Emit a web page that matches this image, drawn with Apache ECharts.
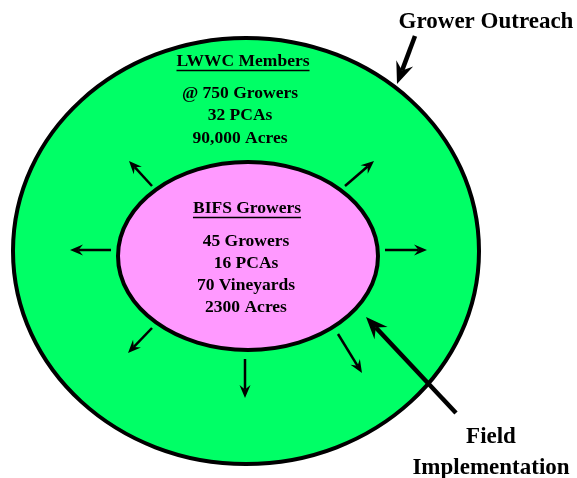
<!DOCTYPE html>
<html>
<head>
<meta charset="utf-8">
<script src="https://cdn.jsdelivr.net/npm/echarts@6/dist/echarts.min.js"></script>
<style>html,body{margin:0;padding:0;background:#fff}#main{width:577px;height:478px}</style>
</head>
<body>
<div id="main"></div>
<script>
var lwwcTitle = 'LWWC Members';
var lwwcLines = ['@ 750 Growers', '32 PCAs', '90,000 Acres'];
var bifsTitle = 'BIFS Growers';
var bifsLines = ['45 Growers', '16 PCAs', '70 Vineyards', '2300 Acres'];
var outreachLabel = ['Grower Outreach'];
var fieldLabel = ['Field', 'Implementation'];

// layout, in the pixel space of the hidden axes
var rings = [
	[246, 251, 233, 213, '#00ff66'],
	[248, 256, 130, 94, '#ff99ff']
];
var smallArrows = [
	[152, 186, 129, 161],
	[345, 186, 374, 161],
	[111, 250, 70, 250],
	[385, 250, 427, 250],
	[152, 328, 128, 353],
	[245, 359, 245, 398],
	[338, 334, 362, 373]
];
var bigArrows = [
	[415, 36, 397, 84],
	[456, 413, 366, 317]
];

var FONT = '"Liberation Serif", "Times New Roman", serif';
var texts = [];
texts.push([243, 61, lwwcTitle, 17.5, 1]);
lwwcLines.forEach(function(t, i) { texts.push([240, 93 + i * 22.5, t, 17.5, 0]); });
texts.push([247, 208, bifsTitle, 17.5, 1]);
bifsLines.forEach(function(t, i) { texts.push([246, 241 + i * 22, t, 17.5, 0]); });
outreachLabel.forEach(function(t, i) { texts.push([486, 22 + i * 30, t, 23, 0]); });
fieldLabel.forEach(function(t, i) { texts.push([491, 437 + i * 31, t, 23, 0]); });

var measure = document.createElement('canvas').getContext('2d');
function textWidth(t, size) {
	measure.font = 'bold ' + size + 'px ' + FONT;
	return measure.measureText(t).width;
}

function arrow(api, lineW, headL, headW) {
	var p0 = api.coord([api.value(0), api.value(1)]);
	var p1 = api.coord([api.value(2), api.value(3)]);
	var dx = p1[0] - p0[0], dy = p1[1] - p0[1];
	var len = Math.sqrt(dx * dx + dy * dy);
	var ux = dx / len, uy = dy / len, nx = -uy, ny = ux;
	var bx = p1[0] - ux * headL, by = p1[1] - uy * headL;
	var mx = p1[0] - ux * headL * 0.65, my = p1[1] - uy * headL * 0.65;
	return {
		type: 'group',
		children: [{
			type: 'line',
			shape: {x1: p0[0], y1: p0[1], x2: mx, y2: my},
			style: {stroke: '#000', lineWidth: lineW}
		}, {
			type: 'polygon',
			shape: {points: [p1, [bx + nx * headW, by + ny * headW], [mx, my], [bx - nx * headW, by - ny * headW]]},
			style: {fill: '#000'}
		}]
	};
}

var myChart = echarts.init(document.getElementById('main'));
myChart.setOption({
	animation: false,
	grid: {left: 0, right: 0, top: 0, bottom: 0},
	xAxis: {type: 'value', min: 0, max: 577, show: false},
	yAxis: {type: 'value', min: 0, max: 478, inverse: true, show: false},
	series: [{
		type: 'custom',
		data: rings,
		renderItem: function(params, api) {
			var c = api.coord([api.value(0), api.value(1)]);
			var s = api.size([api.value(2), api.value(3)]);
			return {
				type: 'ellipse',
				shape: {cx: c[0], cy: c[1], rx: s[0], ry: s[1]},
				style: {fill: rings[params.dataIndex][4], stroke: '#000', lineWidth: 4}
			};
		}
	}, {
		type: 'custom',
		data: smallArrows,
		renderItem: function(params, api) { return arrow(api, 2.5, 13, 5.5); }
	}, {
		type: 'custom',
		data: bigArrows,
		renderItem: function(params, api) { return arrow(api, 4.5, 22, 9); }
	}, {
		type: 'custom',
		data: texts,
		renderItem: function(params, api) {
			var d = texts[params.dataIndex];
			var p = api.coord([d[0], d[1]]);
			var children = [{
				type: 'text',
				style: {
					text: d[2], x: p[0], y: p[1], align: 'center', verticalAlign: 'middle',
					fontSize: d[3], fontWeight: 'bold', fontFamily: FONT, fill: '#000'
				}
			}];
			if (d[4]) {
				var w = textWidth(d[2], d[3]);
				children.push({
					type: 'line',
					shape: {x1: p[0] - w / 2, y1: p[1] + 9.5, x2: p[0] + w / 2, y2: p[1] + 9.5},
					style: {stroke: '#000', lineWidth: 1.5}
				});
			}
			return {type: 'group', children: children};
		}
	}]
});
</script>
</body>
</html>
